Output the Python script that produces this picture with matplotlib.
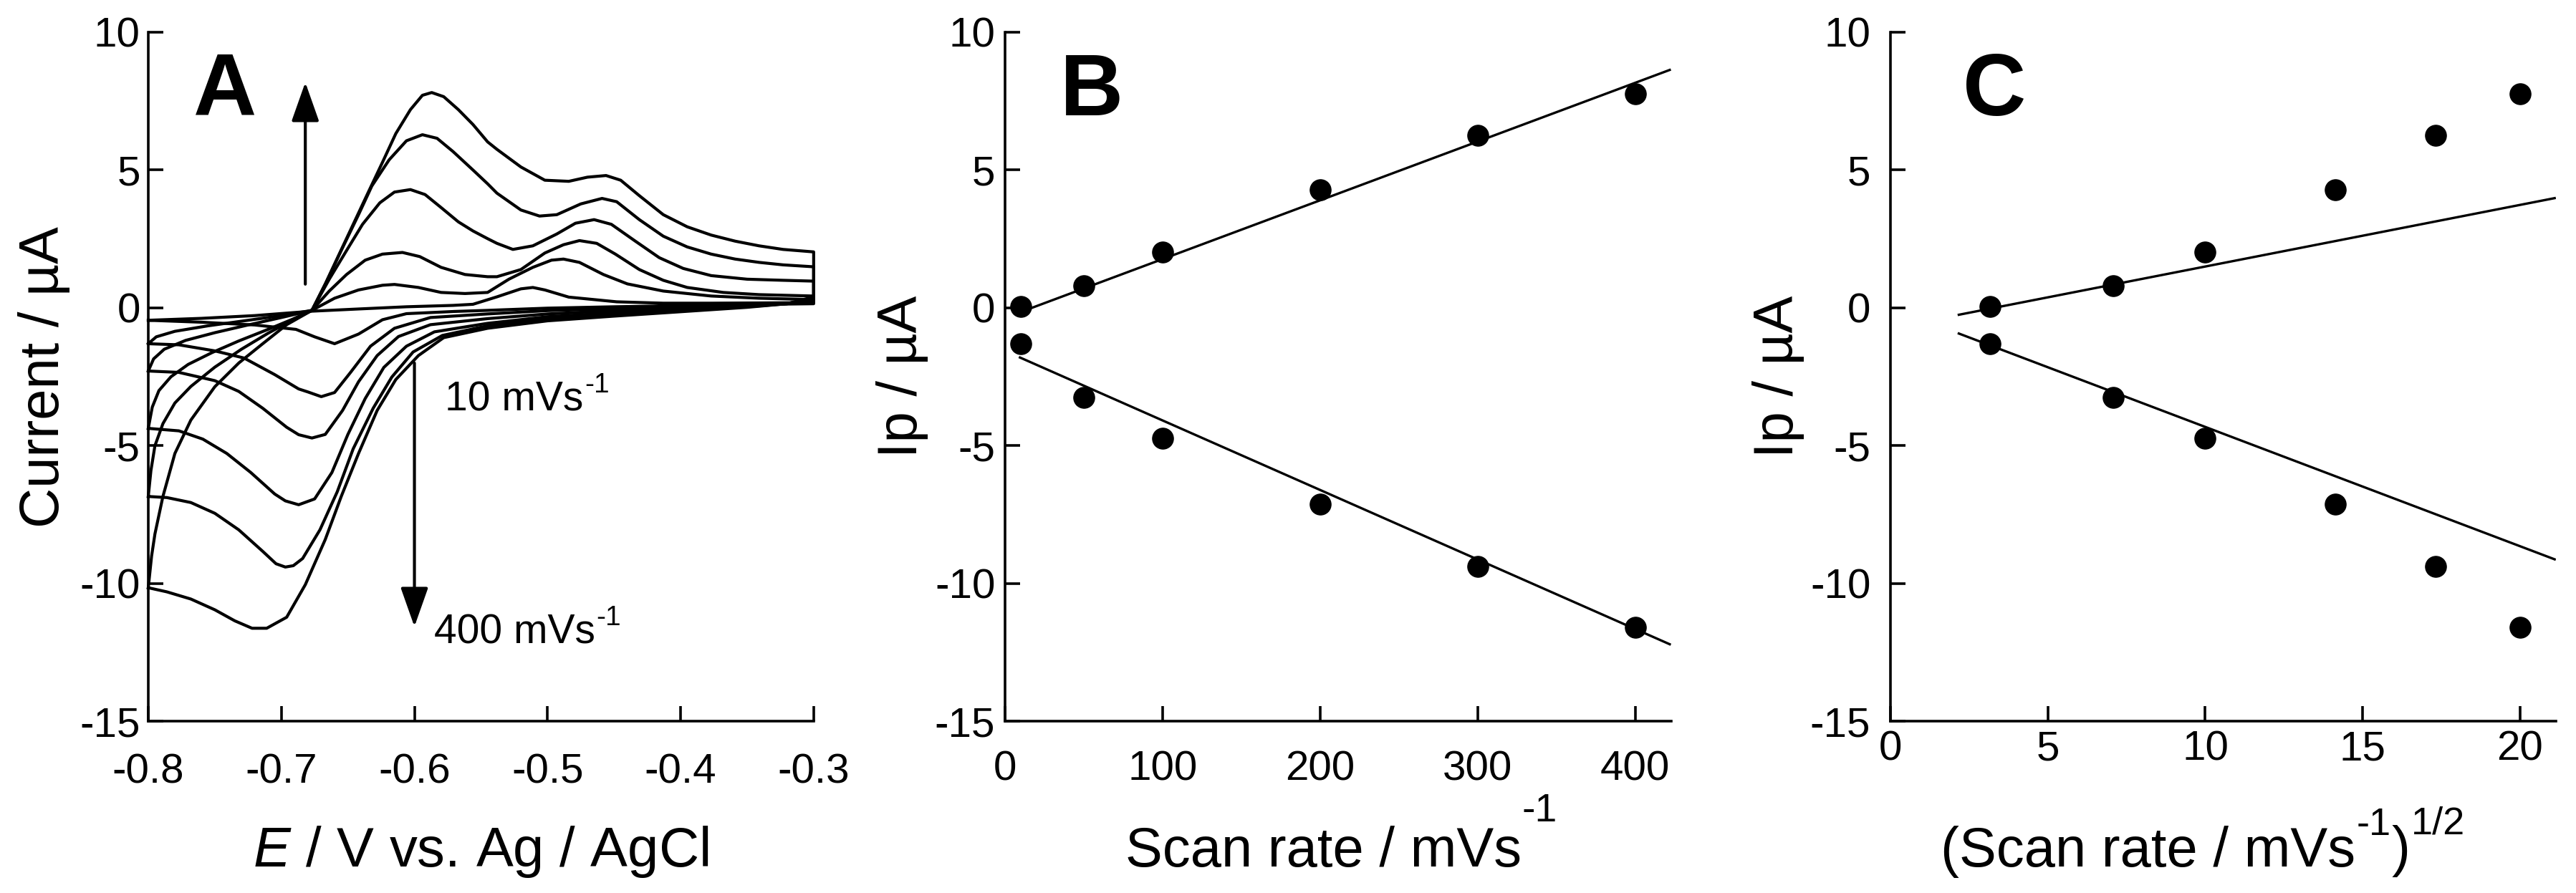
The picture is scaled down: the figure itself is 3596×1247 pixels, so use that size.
import numpy as np
import matplotlib
matplotlib.use('Agg')
import matplotlib.pyplot as plt

plt.rcParams['font.family'] = ['Liberation Sans', 'DejaVu Sans']
plt.rcParams['mathtext.fontset'] = 'custom'
plt.rcParams['mathtext.rm'] = 'Liberation Sans'
plt.rcParams['mathtext.it'] = 'Liberation Sans:italic'
plt.rcParams['axes.unicode_minus'] = False

# --- Panel A: cyclic voltammograms, (E / V, I / uA) pairs, upper branch then lower branch
cv10 = [(-0.800, -0.45), (-0.760, -0.38), (-0.720, -0.28), (-0.677, -0.12), (-0.642, -0.04),
        (-0.606, 0.04), (-0.571, 0.09), (-0.556, 0.13), (-0.538, 0.40), (-0.520, 0.69),
        (-0.511, 0.74), (-0.502, 0.65), (-0.484, 0.39), (-0.448, 0.22), (-0.413, 0.17),
        (-0.377, 0.17), (-0.300, 0.19),
        (-0.300, 0.15), (-0.350, 0.12), (-0.400, 0.08), (-0.450, 0.04), (-0.500, -0.01),
        (-0.545, -0.09), (-0.570, -0.13), (-0.606, -0.21), (-0.624, -0.43), (-0.642, -0.95),
        (-0.660, -1.30), (-0.675, -1.05), (-0.689, -0.78), (-0.720, -0.62), (-0.760, -0.52),
        (-0.800, -0.45)]

cv50 = [(-0.800, -1.30), (-0.794, -1.05), (-0.780, -0.85), (-0.755, -0.65), (-0.725, -0.45),
        (-0.700, -0.28), (-0.677, -0.09), (-0.660, 0.35), (-0.642, 0.65), (-0.624, 0.82),
        (-0.615, 0.85), (-0.597, 0.74), (-0.580, 0.56), (-0.562, 0.52), (-0.545, 0.56),
        (-0.529, 1.04), (-0.511, 1.47), (-0.497, 1.73), (-0.488, 1.77), (-0.476, 1.65),
        (-0.458, 1.21), (-0.440, 0.87), (-0.413, 0.61), (-0.377, 0.43), (-0.341, 0.35),
        (-0.300, 0.30),
        (-0.300, 0.20), (-0.320, 0.16), (-0.350, 0.10), (-0.400, 0.03), (-0.450, -0.03),
        (-0.500, -0.10), (-0.545, -0.22), (-0.588, -0.35), (-0.615, -0.74), (-0.633, -1.39),
        (-0.648, -2.34), (-0.660, -3.07), (-0.670, -3.22), (-0.680, -3.05), (-0.687, -2.94),
        (-0.705, -2.42), (-0.728, -1.82), (-0.750, -1.56), (-0.777, -1.34), (-0.800, -1.30)]

cv100 = [(-0.800, -2.29), (-0.796, -1.85), (-0.788, -1.50), (-0.772, -1.18), (-0.750, -0.90),
         (-0.725, -0.62), (-0.700, -0.35), (-0.677, -0.09), (-0.664, 0.61), (-0.651, 1.21),
         (-0.637, 1.73), (-0.624, 1.95), (-0.609, 2.01), (-0.596, 1.86), (-0.580, 1.47),
         (-0.562, 1.21), (-0.545, 1.13), (-0.538, 1.13), (-0.520, 1.39), (-0.502, 1.99),
         (-0.488, 2.29), (-0.476, 2.44), (-0.463, 2.34), (-0.449, 1.95), (-0.431, 1.39),
         (-0.413, 1.00), (-0.395, 0.74), (-0.368, 0.56), (-0.341, 0.48), (-0.300, 0.43),
         (-0.300, 0.25), (-0.320, 0.17), (-0.350, 0.09), (-0.400, -0.02), (-0.450, -0.10),
         (-0.500, -0.22), (-0.545, -0.39), (-0.588, -0.61), (-0.612, -1.04), (-0.628, -1.73),
         (-0.642, -2.68), (-0.654, -3.72), (-0.667, -4.59), (-0.677, -4.72), (-0.687, -4.60),
         (-0.696, -4.33), (-0.714, -3.64), (-0.732, -3.03), (-0.750, -2.64), (-0.777, -2.34),
         (-0.800, -2.29)]

cv200 = [(-0.800, -4.37), (-0.797, -3.60), (-0.792, -3.00), (-0.783, -2.50), (-0.770, -2.05),
         (-0.752, -1.62), (-0.732, -1.20), (-0.710, -0.78), (-0.692, -0.42), (-0.677, -0.09),
         (-0.664, 1.04), (-0.651, 2.08), (-0.639, 3.03), (-0.626, 3.81), (-0.615, 4.20),
         (-0.603, 4.29), (-0.592, 4.11), (-0.580, 3.64), (-0.567, 3.12), (-0.556, 2.79),
         (-0.545, 2.51), (-0.538, 2.34), (-0.526, 2.12), (-0.511, 2.25), (-0.493, 2.68),
         (-0.479, 3.07), (-0.465, 3.20), (-0.452, 3.03), (-0.434, 2.42), (-0.416, 1.82),
         (-0.398, 1.43), (-0.377, 1.17), (-0.350, 1.04), (-0.323, 1.00), (-0.300, 0.97),
         (-0.300, 0.30), (-0.320, 0.16), (-0.350, 0.06), (-0.400, -0.06), (-0.450, -0.18),
         (-0.500, -0.32), (-0.545, -0.56), (-0.585, -0.87), (-0.606, -1.39), (-0.623, -2.16),
         (-0.637, -3.29), (-0.650, -4.59), (-0.662, -5.97), (-0.675, -6.93), (-0.687, -7.14),
         (-0.697, -7.00), (-0.705, -6.75), (-0.723, -5.97), (-0.741, -5.28), (-0.759, -4.76),
         (-0.777, -4.46), (-0.800, -4.37)]

cv300 = [(-0.800, -6.84), (-0.798, -5.90), (-0.795, -5.00), (-0.789, -4.20), (-0.780, -3.45),
         (-0.768, -2.85), (-0.750, -2.15), (-0.730, -1.50), (-0.710, -0.92), (-0.692, -0.45),
         (-0.677, -0.09), (-0.666, 0.95), (-0.655, 2.08), (-0.642, 3.38), (-0.632, 4.42),
         (-0.619, 5.37), (-0.606, 6.06), (-0.594, 6.28), (-0.583, 6.15), (-0.571, 5.67),
         (-0.556, 5.00), (-0.545, 4.50), (-0.538, 4.16), (-0.520, 3.55), (-0.506, 3.33),
         (-0.493, 3.38), (-0.475, 3.77), (-0.459, 3.97), (-0.448, 3.85), (-0.431, 3.20),
         (-0.413, 2.60), (-0.395, 2.21), (-0.377, 1.95), (-0.359, 1.77), (-0.341, 1.65),
         (-0.323, 1.56), (-0.300, 1.49),
         (-0.300, 0.35), (-0.320, 0.15), (-0.350, 0.04), (-0.400, -0.10), (-0.450, -0.24),
         (-0.500, -0.40), (-0.545, -0.65), (-0.579, -1.00), (-0.601, -1.60), (-0.617, -2.51),
         (-0.631, -3.64), (-0.646, -5.11), (-0.658, -6.67), (-0.671, -8.05), (-0.684, -9.09),
         (-0.691, -9.35), (-0.697, -9.40), (-0.704, -9.28), (-0.714, -8.83), (-0.732, -8.05),
         (-0.750, -7.45), (-0.768, -7.06), (-0.786, -6.88), (-0.800, -6.84)]

cv400 = [(-0.800, -10.15), (-0.7975, -9.00), (-0.795, -8.20), (-0.789, -6.84), (-0.780, -5.28),
         (-0.768, -4.07), (-0.750, -2.86), (-0.732, -2.00), (-0.714, -1.30), (-0.696, -0.61),
         (-0.677, -0.09), (-0.667, 0.87), (-0.657, 1.90), (-0.646, 3.03), (-0.635, 4.16),
         (-0.624, 5.28), (-0.614, 6.32), (-0.603, 7.19), (-0.594, 7.71), (-0.587, 7.81),
         (-0.578, 7.66), (-0.567, 7.19), (-0.556, 6.65), (-0.545, 6.02), (-0.538, 5.75),
         (-0.520, 5.11), (-0.502, 4.63), (-0.484, 4.59), (-0.470, 4.74), (-0.456, 4.80),
         (-0.445, 4.63), (-0.431, 4.07), (-0.413, 3.38), (-0.395, 2.94), (-0.377, 2.64),
         (-0.359, 2.42), (-0.341, 2.25), (-0.323, 2.12), (-0.300, 2.03),
         (-0.300, 0.40), (-0.320, 0.15), (-0.350, 0.02), (-0.400, -0.14), (-0.450, -0.30),
         (-0.500, -0.47), (-0.545, -0.74), (-0.578, -1.08), (-0.597, -1.73), (-0.614, -2.60),
         (-0.628, -3.72), (-0.642, -5.28), (-0.655, -6.84), (-0.667, -8.40), (-0.682, -10.04),
         (-0.696, -11.22), (-0.711, -11.62), (-0.722, -11.62), (-0.735, -11.35), (-0.750, -10.95),
         (-0.768, -10.56), (-0.786, -10.30), (-0.800, -10.15)]

cv_curves = [cv10, cv50, cv100, cv200, cv300, cv400]

# --- Panels B and C: peak currents vs scan rate
scan_rate = np.array([10, 50, 100, 200, 300, 400])
ip_anodic = np.array([0.06, 0.80, 2.02, 4.28, 6.26, 7.76])
ip_cathodic = np.array([-1.31, -3.24, -4.73, -7.11, -9.39, -11.58])

# straight lines drawn in the figure (end points)
fit_b_x = [9.4, 422.0]
fit_b_anodic = [-0.16, 8.63]
fit_b_cathodic = [-1.80, -12.20]
fit_c_x = [2.17, 21.1]
fit_c_anodic = [-0.25, 3.98]
fit_c_cathodic = [-0.93, -9.12]

y_ticks = [10, 5, 0, -5, -10, -15]

TICK_FS = 42
LABEL_FS = 56
SPINE_W = 2.6

fig = plt.figure(figsize=(35.96, 12.47), dpi=100)
axA = fig.add_axes([0.05756, 0.1921, 0.2583, 0.7719])
axB = fig.add_axes([0.3902, 0.1921, 0.2586, 0.7719])
axC = fig.add_axes([0.7339, 0.1921, 0.2583, 0.7719])


def style_axes(ax, xpad, ypad):
    for side in ['top', 'right']:
        ax.spines[side].set_visible(False)
    for side in ['left', 'bottom']:
        ax.spines[side].set_linewidth(SPINE_W)
    ax.tick_params(direction='in', length=15, width=SPINE_W, labelsize=TICK_FS)
    ax.tick_params(axis='x', pad=xpad)
    ax.tick_params(axis='y', pad=ypad)
    ax.set_ylim(-15, 10)
    ax.set_yticks(y_ticks)
    ax.set_yticklabels([str(t) for t in y_ticks])


def add_sup(prev, s, size, dy, dx=1):
    # place a piece of text right after another one, dy points above its bbox bottom
    return prev.axes.annotate(s, xy=(1, 0), xycoords=prev, xytext=(dx, dy),
                              textcoords='offset points', fontsize=size,
                              ha='left', va='baseline', annotation_clip=False)


# Panel A
for cv in cv_curves:
    e, i = np.array(cv).T
    axA.plot(e, i, color='black', lw=3.0, solid_joinstyle='round', clip_on=False)
style_axes(axA, 32, 8)
axA.set_xlim(-0.8, -0.3)
axA.set_xticks([-0.8, -0.7, -0.6, -0.5, -0.4, -0.3])
axA.set_xticklabels(['-0.8', '-0.7', '-0.6', '-0.5', '-0.4', '-0.3'])
axA.set_xlabel('$E$ / V vs. Ag / AgCl', fontsize=LABEL_FS)
axA.xaxis.set_label_coords(0.5, -0.21)
axA.xaxis.label.set_va('baseline')
axA.set_ylabel('Current / µA', fontsize=LABEL_FS)
axA.yaxis.set_label_coords(-0.135, 0.5)
axA.yaxis.label.set_va('baseline')
axA.text(-0.766, 7.0, 'A', fontsize=88, fontweight='bold', ha='left', va='baseline')

arrow_style = '-|>,head_length=1.7,head_width=0.6'
axA.annotate('', xy=(-0.682, 8.18), xytext=(-0.682, 0.86),
             arrowprops=dict(arrowstyle=arrow_style, mutation_scale=20, lw=3.0,
                             color='black', shrinkA=0, shrinkB=0))
axA.annotate('', xy=(-0.600, -11.56), xytext=(-0.600, -2.0),
             arrowprops=dict(arrowstyle=arrow_style, mutation_scale=20, lw=3.0,
                             color='black', shrinkA=0, shrinkB=0))
t10 = axA.text(-0.577, -3.74, '10 mVs', fontsize=41, ha='left', va='baseline')
add_sup(t10, '-1', 28, 27)
t400 = axA.text(-0.585, -12.16, '400 mVs', fontsize=41, ha='left', va='baseline')
add_sup(t400, '-1', 28, 27)

# Panel B
axB.plot(fit_b_x, fit_b_anodic, color='black', lw=2.4)
axB.plot(fit_b_x, fit_b_cathodic, color='black', lw=2.4)
axB.plot(scan_rate, ip_anodic, 'o', color='black', ms=21, clip_on=False)
axB.plot(scan_rate, ip_cathodic, 'o', color='black', ms=21, clip_on=False)
style_axes(axB, 29, 10)
axB.set_xlim(0, 423)
axB.set_xticks([0, 100, 200, 300, 400])
axB.set_ylabel('Ip / µA', fontsize=LABEL_FS)
axB.yaxis.set_label_coords(-0.132, 0.5)
axB.yaxis.label.set_va('baseline')
axB.text(0.1806, -0.2104, 'Scan rate / mVs', transform=axB.transAxes,
         fontsize=LABEL_FS, ha='left', va='baseline')
axB.text(0.776, -0.145, '-1', transform=axB.transAxes,
         fontsize=40, ha='left', va='baseline')
axB.text(0.082, 0.879, 'B', transform=axB.transAxes, fontsize=88,
         fontweight='bold', ha='left', va='baseline')

# Panel C
sqrt_rate = np.sqrt(scan_rate)
axC.plot(fit_c_x, fit_c_anodic, color='black', lw=2.4)
axC.plot(fit_c_x, fit_c_cathodic, color='black', lw=2.4)
axC.plot(sqrt_rate, ip_anodic, 'o', color='black', ms=21, clip_on=False)
axC.plot(sqrt_rate, ip_cathodic, 'o', color='black', ms=21, clip_on=False)
style_axes(axC, 9, 20)
axC.set_xlim(0, 21.14)
axC.set_xticks([0, 5, 10, 15, 20])
axC.set_ylabel('Ip / µA', fontsize=LABEL_FS)
axC.yaxis.set_label_coords(-0.147, 0.5)
axC.yaxis.label.set_va('baseline')
c1 = axC.text(0.075, -0.2104, '(Scan rate / mVs', transform=axC.transAxes,
              fontsize=LABEL_FS, ha='left', va='baseline')
c2 = add_sup(c1, '-1', 39, 43.5)
c3 = add_sup(c2, ')', LABEL_FS, -23.5)
add_sup(c3, '1/2', 39, 43.5)
axC.text(0.109, 0.879, 'C', transform=axC.transAxes, fontsize=88,
         fontweight='bold', ha='left', va='baseline')

fig.savefig('out.png', dpi=100)
